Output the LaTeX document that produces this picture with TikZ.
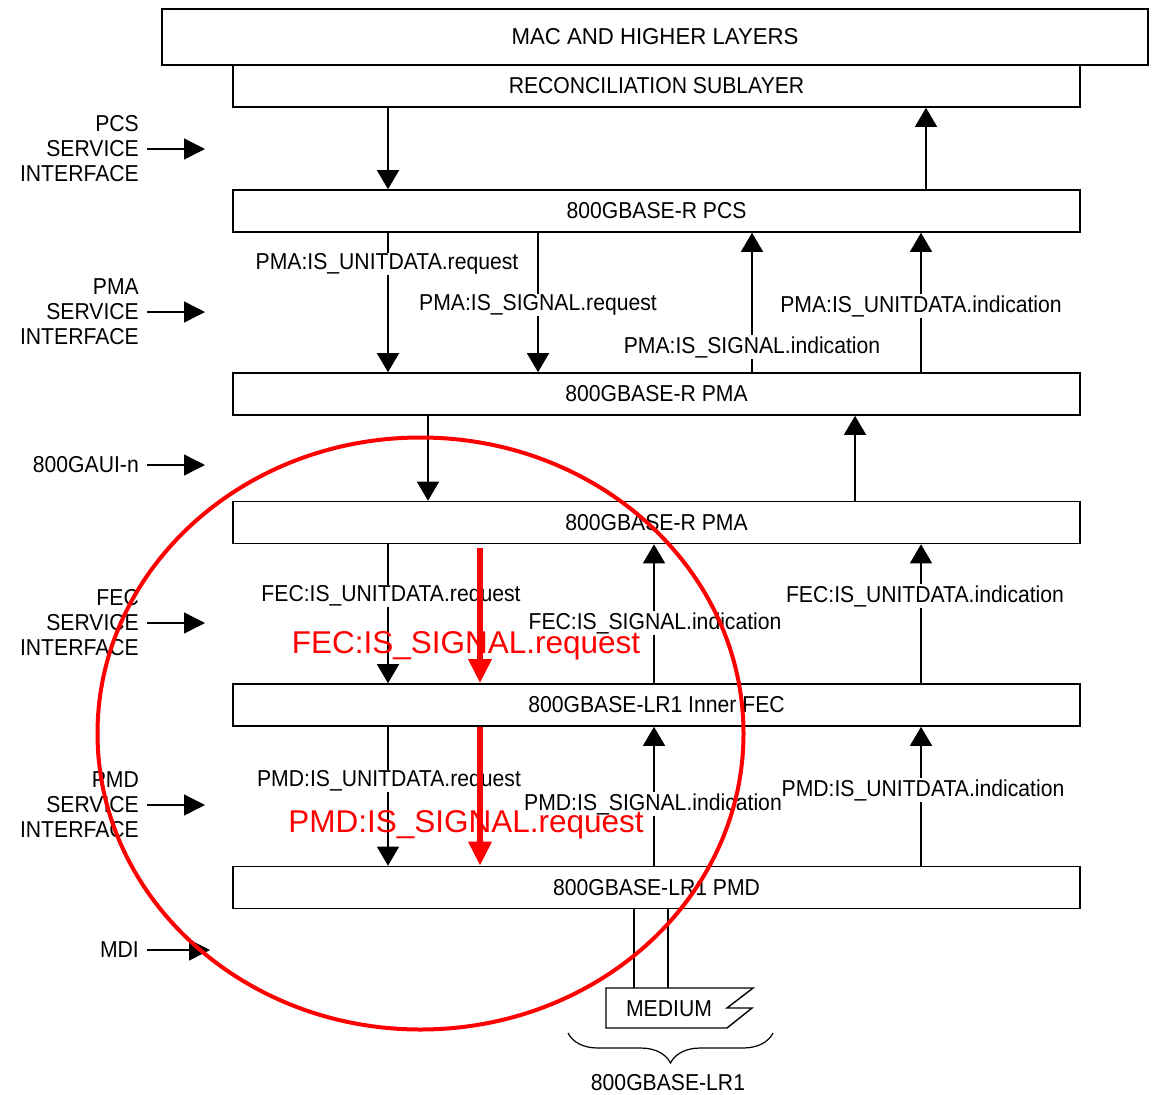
\documentclass[tikz,border=0pt]{standalone}
\usepackage{fontspec}
\setmainfont{Liberation Sans}[FakeStretch=0.92]
\newfontfamily\widefont{Liberation Sans}[FakeStretch=0.965]
\newfontfamily\redfont{Liberation Sans}
\usetikzlibrary{arrows.meta,decorations.pathreplacing,shapes.geometric}
\begin{document}
\begin{tikzpicture}[x=1pt,y=-1pt,
  txt/.style={font=\fontsize{23}{25}\selectfont, inner sep=0pt},
  layer/.style={txt, draw=black, line width=1.6pt, rectangle, minimum width=847pt, minimum height=42pt},
  lbl/.style={txt, fill=white, inner xsep=1pt, inner ysep=1pt},
  side/.style={txt, anchor=east, align=right},
  arr/.style={line width=1.4pt, -{Triangle[length=19pt,width=22pt]}},
  larr/.style={line width=1.4pt, -{Triangle[length=21pt,width=21pt]}},
  redarr/.style={red, line width=6pt, -{Triangle[length=24pt,width=22pt]}},
  redtxt/.style={red, font=\redfont\fontsize{31.5}{34}\selectfont, inner sep=0pt},
]
\useasboundingbox (0,0) rectangle (1155,1094);

% layers
\node[layer, minimum width=986pt, minimum height=56pt, font=\widefont\fontsize{23}{25}\selectfont] (mac) at (655,37) {MAC AND HIGHER LAYERS};
\node[layer] (rs) at (656.5,86) {RECONCILIATION SUBLAYER};
\node[layer] (pcs) at (656.5,211) {800GBASE-R PCS};
\node[layer] (pma1) at (656.5,394) {800GBASE-R PMA};
\node[layer] (pma2) at (656.5,522.5) {800GBASE-R PMA};
\node[layer] (fec) at (656.5,705) {800GBASE-LR1 Inner FEC};
\node[layer] (pmd) at (656.5,887.5) {800GBASE-LR1 PMD};

% x positions
\coordinate (x388) at (388,0);
\coordinate (x428) at (428,0);
\coordinate (x538) at (538,0);
\coordinate (x654) at (654,0);
\coordinate (x752) at (752,0);
\coordinate (x855) at (855,0);
\coordinate (x921) at (921,0);
\coordinate (x926) at (926,0);

% RS <-> PCS
\draw[arr] (rs.south -| x388) -- (pcs.north -| x388);
\draw[arr] (pcs.north -| x926) -- (rs.south -| x926);

% PCS <-> PMA
\draw[arr] (pcs.south -| x388) -- (pma1.north -| x388);
\draw[arr] (pcs.south -| x538) -- (pma1.north -| x538);
\draw[arr] (pma1.north -| x752) -- (pcs.south -| x752);
\draw[arr] (pma1.north -| x921) -- (pcs.south -| x921);
\node[lbl] (l1) at (387,264) {PMA:IS\_UNITDATA.request};
\node[lbl] (l2) at (538,305) {PMA:IS\_SIGNAL.request};
\node[lbl] (l3) at (752,347) {PMA:IS\_SIGNAL.indication};
\node[lbl] (l4) at (921,306) {PMA:IS\_UNITDATA.indication};

% PMA <-> PMA
\draw[arr] (pma1.south -| x428) -- (pma2.north -| x428);
\draw[arr] (pma2.north -| x855) -- (pma1.south -| x855);

% PMA <-> FEC
\draw[arr] (pma2.south -| x388) -- (fec.north -| x388);
\draw[arr] (fec.north -| x654) -- (pma2.south -| x654);
\draw[arr] (fec.north -| x921) -- (pma2.south -| x921);
\node[lbl] (l5) at (391,596) {FEC:IS\_UNITDATA.request};
\node[lbl] (l6) at (655,623) {FEC:IS\_SIGNAL.indication};
\node[lbl] (l7) at (925,596) {FEC:IS\_UNITDATA.indication};

% FEC <-> PMD
\draw[arr] (fec.south -| x388) -- (pmd.north -| x388);
\draw[arr] (pmd.north -| x654) -- (fec.south -| x654);
\draw[arr] (pmd.north -| x921) -- (fec.south -| x921);
\node[lbl] (l8) at (389,781) {PMD:IS\_UNITDATA.request};
\node[lbl] (l9) at (653,804) {PMD:IS\_SIGNAL.indication};
\node[lbl] (l10) at (923,790) {PMD:IS\_UNITDATA.indication};

% medium
\coordinate (m1) at (634,988);
\coordinate (m2) at (668,988);
\draw[line width=1.6pt] (pmd.south -| m1) -- (m1);
\draw[line width=1.6pt] (pmd.south -| m2) -- (m2);
\draw[line width=1.4pt, line join=miter] (606,988) -- (753,988) -- (727,1008) -- (752,1008) -- (727,1028) -- (606,1028) -- cycle;
\node[txt] (med) at (669,1009) {MEDIUM};
\coordinate (bl) at (568,1033);
\coordinate (br) at (773,1033);
\draw[line width=1.2pt, decorate, decoration={brace, mirror, amplitude=30pt, aspect=0.5}] (bl) -- (br);
\node[txt] (lr1) at (668,1083) {800GBASE-LR1};

% side labels
\node[side] (spcs) at (139,149) {PCS\\SERVICE\\INTERFACE};
\node[side] (spma) at (139,312) {PMA\\SERVICE\\INTERFACE};
\node[side] (saui) at (139,465) {800GAUI-n};
\node[side] (sfec) at (139,623) {FEC\\SERVICE\\INTERFACE};
\node[side] (spmd) at (139,805) {PMD\\SERVICE\\INTERFACE};
\node[side] (smdi) at (139,950) {MDI};
\coordinate (apcs) at (205,149);
\coordinate (apma) at (205,312);
\coordinate (aaui) at (205,465);
\coordinate (afec) at (205,623);
\coordinate (apmd) at (205,805);
\coordinate (amdi) at (210,950);
\draw[larr] ([xshift=8pt]spcs.east) -- (apcs);
\draw[larr] ([xshift=8pt]spma.east) -- (apma);
\draw[larr] ([xshift=8pt]saui.east) -- (aaui);
\draw[larr] ([xshift=8pt]sfec.east) -- (afec);
\draw[larr] ([xshift=8pt]spmd.east) -- (apmd);
\draw[larr] ([xshift=8pt]smdi.east) -- (amdi);

% red annotations
\coordinate (r1) at (480,548);
\coordinate (r2) at (480,727);
\draw[redarr] (r1) -- (fec.north -| r1);
\draw[redarr] (r2) -- (pmd.north -| r2);
\node[redtxt] (rt1) at (466,646) {FEC:IS\_SIGNAL.request};
\node[redtxt] (rt2) at (466,825) {PMD:IS\_SIGNAL.request};
\node[draw=red, line width=4pt, ellipse, inner sep=0pt, minimum width=646pt, minimum height=592pt] (circ) at (420.5,733.5) {};
\end{tikzpicture}
\end{document}
